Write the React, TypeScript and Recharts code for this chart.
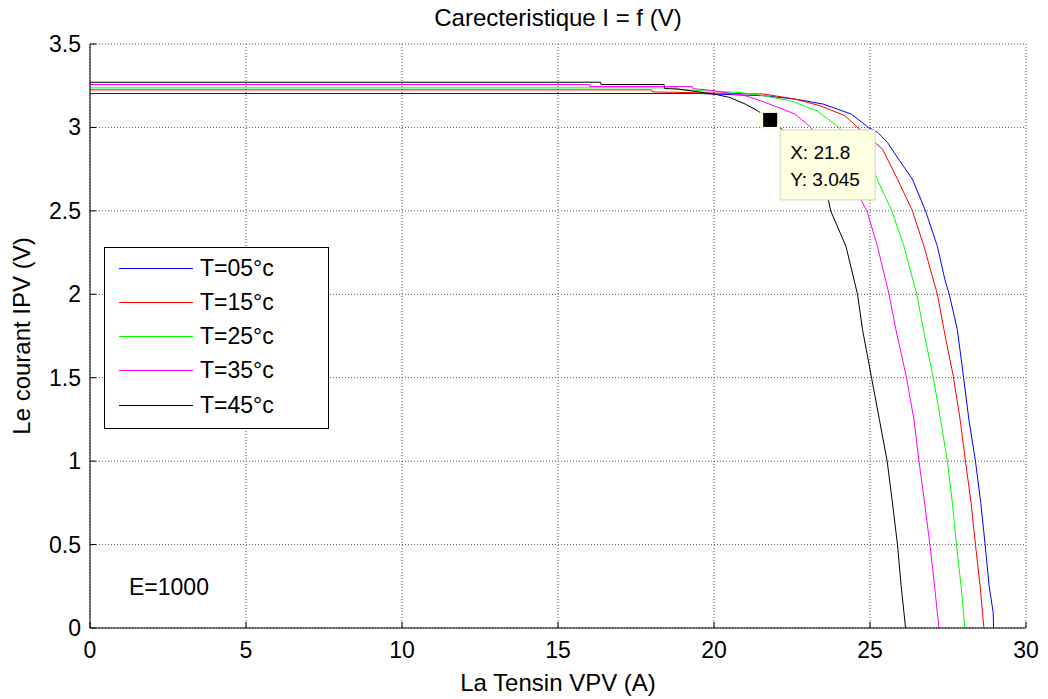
import React from 'react';
import { LineChart, Line, XAxis, YAxis, CartesianGrid, ReferenceDot, Legend } from 'recharts';

const FONT = 'Arial, "Liberation Sans", Helvetica, sans-serif';

const voltageTicks = [0, 5, 10, 15, 20, 25, 30];
const currentTicks = [0, 0.5, 1, 1.5, 2, 2.5, 3, 3.5];

// I-V curves, E = 1000 W/m², one pair of arrays per temperature
const v05 = [0, 19.5, 21.6, 22.6, 23.5, 24.4, 24.95, 25.25, 25.56, 25.95, 26.36, 26.78, 27.16, 27.4, 27.54, 27.8, 28.0, 28.17, 28.38, 28.55, 28.69, 28.82, 28.95, 28.96];
const i05 = [3.203, 3.203, 3.19, 3.17, 3.14, 3.08, 3.0, 2.97, 2.91, 2.8, 2.69, 2.5, 2.287, 2.088, 2.0, 1.788, 1.5, 1.248, 1.0, 0.75, 0.5, 0.25, 0.09, 0];

const v15 = [0, 18.0, 18.02, 21.6, 22.6, 23.4, 24.2, 24.6, 25.4, 25.88, 26.36, 26.73, 27.16, 27.37, 27.67, 27.89, 28.06, 28.24, 28.38, 28.53, 28.65];
const i15 = [3.225, 3.225, 3.213, 3.2, 3.17, 3.13, 3.07, 3.0, 2.87, 2.69, 2.5, 2.287, 2.0, 1.788, 1.508, 1.248, 1.0, 0.75, 0.5, 0.25, 0];

const v25 = [0, 18.85, 18.87, 20.8, 21.6, 22.45, 23.3, 24.0, 24.6, 25.08, 25.45, 25.7, 26.09, 26.5, 26.75, 27.03, 27.26, 27.48, 27.64, 27.77, 27.92, 28.04];
const i25 = [3.237, 3.237, 3.227, 3.21, 3.19, 3.16, 3.1, 3.0, 2.88, 2.75, 2.6, 2.5, 2.287, 2.0, 1.75, 1.5, 1.25, 1.0, 0.75, 0.5, 0.25, 0];

const v35 = [0, 16.0, 16.02, 19.3, 19.32, 20.0, 21.0, 21.5, 22.05, 22.6, 23.1, 23.7, 24.2, 24.7, 24.9, 25.24, 25.61, 25.83, 26.17, 26.41, 26.57, 26.75, 26.92, 27.07, 27.21];
const i35 = [3.257, 3.257, 3.245, 3.245, 3.233, 3.22, 3.19, 3.16, 3.12, 3.08, 3.0, 2.85, 2.72, 2.57, 2.5, 2.287, 2.0, 1.788, 1.5, 1.248, 1.0, 0.75, 0.5, 0.25, 0];

const v45 = [0, 16.36, 16.38, 18.4, 18.42, 18.85, 20.0, 20.5, 21.0, 21.4, 21.8, 22.3, 22.8, 23.2, 23.64, 23.74, 24.23, 24.6, 24.76, 25.05, 25.3, 25.55, 25.72, 25.88, 26.0, 26.14];
const i45 = [3.271, 3.271, 3.257, 3.257, 3.233, 3.23, 3.2, 3.18, 3.14, 3.1, 3.045, 2.97, 2.87, 2.75, 2.59, 2.5, 2.287, 2.0, 1.788, 1.5, 1.25, 1.0, 0.75, 0.5, 0.25, 0];

// data tip on the 45 °C curve
const tipV = 21.8;
const tipI = 3.045;

const series = [
  { name: 'T=05°c', color: '#0000ff', v: v05, i: i05 },
  { name: 'T=15°c', color: '#ff0000', v: v15, i: i15 },
  { name: 'T=25°c', color: '#00ff00', v: v25, i: i25 },
  { name: 'T=35°c', color: '#ff00ff', v: v35, i: i35 },
  { name: 'T=45°c', color: '#000000', v: v45, i: i45 },
];

const toPoints = (v: number[], i: number[]) => v.map((x, k) => ({ v: x, i: i[k] }));

const TICK_LEN = 6;

const BottomTick = ({ x, y, payload }: any) => (
  <g>
    <line x1={x} x2={x} y1={y - 22} y2={y - 22 - TICK_LEN} stroke="#000" />
    <text x={x} y={y} textAnchor="middle" dominantBaseline="central" fontFamily={FONT} fontSize={23} fill="#000">
      {payload.value}
    </text>
  </g>
);

const LeftTick = ({ x, y, payload }: any) => (
  <g>
    <line x1={x + 9} x2={x + 9 + TICK_LEN} y1={y} y2={y} stroke="#000" />
    <text x={x} y={y} textAnchor="end" dominantBaseline="central" fontFamily={FONT} fontSize={23} fill="#000">
      {payload.value}
    </text>
  </g>
);

const TopTick = ({ x, y }: any) => <line x1={x} x2={x} y1={y} y2={y + TICK_LEN} stroke="#000" />;
const RightTick = ({ x, y }: any) => <line x1={x} x2={x - TICK_LEN} y1={y} y2={y} stroke="#000" />;

const DataTip = ({ cx, cy }: any) => (
  <g>
    <rect x={cx + 10} y={cy + 10} width={95} height={70} fill="#ffffe1" stroke="#d4d4c4" />
    <text x={cx + 20} y={cy + 33} dominantBaseline="central" fontFamily={FONT} fontSize={19} fill="#000">
      X: {tipV}
    </text>
    <text x={cx + 20} y={cy + 60} dominantBaseline="central" fontFamily={FONT} fontSize={19} fill="#000">
      Y: {tipI}
    </text>
    <rect x={cx - 10} y={cy - 10} width={20} height={20} fill="#ffffe1" />
    <rect x={cx - 7} y={cy - 7} width={14} height={14} fill="#000" />
  </g>
);

const LegendBox = () => (
  <div
    style={{
      width: 225,
      height: 182,
      boxSizing: 'border-box',
      border: '1px solid #000',
      background: '#fff',
      position: 'relative',
      fontFamily: FONT,
      fontSize: 23,
      color: '#000',
    }}
  >
    {series.map((s, k) => (
      <div
        key={s.name}
        style={{ position: 'absolute', left: 14, top: 20 + k * 34.3 - 13, height: 26, display: 'flex', alignItems: 'center', whiteSpace: 'nowrap' }}
      >
        <span style={{ display: 'inline-block', width: 74, borderTop: `1px solid ${s.color}`, marginRight: 7 }} />
        <span>{s.name}</span>
      </div>
    ))}
  </div>
);

export default function App() {
  return (
    <div style={{ position: 'absolute', left: 0, top: 0, width: 1048, height: 699, background: '#fff' }}>
      <LineChart width={1048} height={699} margin={{ top: 44, right: 22, bottom: 0, left: 0 }}>
        <CartesianGrid stroke="#555" strokeDasharray="1 2" />
        <XAxis
          dataKey="v"
          type="number"
          domain={[0, 30]}
          ticks={voltageTicks}
          allowDataOverflow
          height={71}
          tickSize={0}
          tickMargin={22}
          tickLine={false}
          axisLine={{ stroke: '#000' }}
          tick={<BottomTick />}
          interval={0}
        />
        <YAxis
          type="number"
          domain={[0, 3.5]}
          ticks={currentTicks}
          allowDataOverflow
          width={90}
          tickSize={0}
          tickMargin={9}
          tickLine={false}
          axisLine={{ stroke: '#000' }}
          tick={<LeftTick />}
          interval={0}
        />
        <XAxis
          xAxisId="top"
          orientation="top"
          type="number"
          domain={[0, 30]}
          ticks={voltageTicks}
          allowDataOverflow
          height={0}
          tickSize={0}
          tickMargin={0}
          tickLine={false}
          axisLine={{ stroke: '#000' }}
          tick={<TopTick />}
          interval={0}
        />
        <YAxis
          yAxisId="right"
          orientation="right"
          type="number"
          domain={[0, 3.5]}
          ticks={currentTicks}
          allowDataOverflow
          width={0}
          tickSize={0}
          tickMargin={0}
          tickLine={false}
          axisLine={{ stroke: '#000' }}
          tick={<RightTick />}
          interval={0}
        />
        {series.map((s) => (
          <Line
            key={s.name}
            data={toPoints(s.v, s.i)}
            dataKey="i"
            name={s.name}
            type="linear"
            stroke={s.color}
            strokeWidth={1}
            dot={false}
            activeDot={false}
            isAnimationActive={false}
          />
        ))}
        <ReferenceDot x={tipV} y={tipI} shape={(p: any) => <DataTip {...p} />} />
        <Legend
          layout="vertical"
          align="center"
          verticalAlign="middle"
          content={() => <LegendBox />}
          wrapperStyle={{ left: 104, top: 247, width: 225, height: 182 }}
        />
      </LineChart>

      <div
        style={{ position: 'absolute', left: 90, width: 936, top: 4, textAlign: 'center', fontFamily: FONT, fontSize: 24, lineHeight: '28px' }}
      >
        Carecteristique I = f (V)
      </div>
      <div
        style={{ position: 'absolute', left: 90, width: 936, top: 669, textAlign: 'center', fontFamily: FONT, fontSize: 24, lineHeight: '28px' }}
      >
        La Tensin VPV (A)
      </div>
      <div
        style={{
          position: 'absolute',
          left: 22 - 150,
          top: 336 - 14,
          width: 300,
          textAlign: 'center',
          fontFamily: FONT,
          fontSize: 24,
          lineHeight: '28px',
          transform: 'rotate(-90deg)',
        }}
      >
        Le courant IPV (V)
      </div>
      <div style={{ position: 'absolute', left: 129, top: 573, fontFamily: FONT, fontSize: 23, lineHeight: '28px' }}>E=1000</div>
    </div>
  );
}
